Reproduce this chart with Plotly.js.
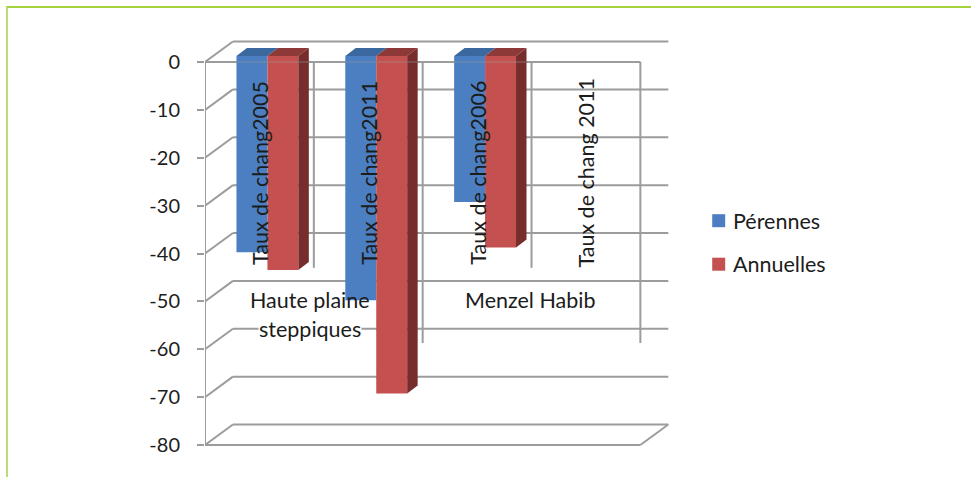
<!DOCTYPE html>
<html>
<head>
<meta charset="utf-8">
<script src="https://cdn.plot.ly/plotly-3.0.1.min.js"></script>
<style>
  html, body { margin: 0; padding: 0; background: #fff; }
  #frame { position: absolute; left: 6px; top: 6px; width: 965px; height: 471px;
           border-top: 2px solid #a4d23c; border-left: 2px solid #b9dc7c; box-sizing: border-box; pointer-events: none; z-index: 5; }
  #chart { position: absolute; left: 0; top: 0; width: 971px; height: 477px; }
</style>
</head>
<body>
<div id="chart"></div>
<div id="frame"></div>
<script>
// Change rates per region and period
var periods = ['Taux de chang2005', 'Taux de chang2011', 'Taux de chang2006', 'Taux de chang 2011'];
var perennes = [-41, -51, -30.5, null];
var annuelles = [-44.7, -70.5, -40, null];
var seriesNames = ['Pérennes', 'Annuelles'];
var yTicks = [0, -10, -20, -30, -40, -50, -60, -70, -80];
var yTickText = ['0', '-10', '-20', '-30', '-40', '-50', '-60', '-70', '-80'];

// Oblique projection, in axis units
var wallDx = 0.2568, wallDy = 4.28;     // back wall relative to front plane
var barDx = 0.0734, barDy = 1.25;       // front face of the bars
var sideDx = 0.0963, sideDy = 1.67;     // bar depth
var barW = 0.2843;

var gridColor = '#9c9c9c';
var textColor = '#1c1c1c';
var fontFamily = 'Lato, Carlito, sans-serif';
var BLUE = '#4b7fc2', BLUE_TOP = '#3a689f', RED = '#c4504f', RED_TOP = '#8c3937', RED_SIDE = '#772d2c';

var W = 971, H = 477;
var left = 204.5, unitX = 109.05, top_ = 35, bottom_ = 450, unitY = 4.7875;
var xMax = 4.3;
var yTop = (62 - top_) / unitY, yBottom = -80 - (bottom_ - 445) / unitY;
var plotW = xMax * unitX, plotH = bottom_ - top_;

var centers = periods.map(function (_, i) { return i + 0.5; });
var barCenters = centers.map(function (c) { return c + barDx; });

function face(xs, ys, color) {
  return { type: 'scatter', mode: 'lines', x: xs.concat(xs[0]), y: ys.concat(ys[0]), fill: 'toself',
           fillcolor: color, line: { width: 0, color: color }, hoverinfo: 'skip', showlegend: false };
}

var traces = [
  { type: 'bar', name: seriesNames[0], x: barCenters, y: perennes, base: barDy,
    marker: { color: BLUE }, hoverinfo: 'y' },
  { type: 'bar', name: seriesNames[1], x: barCenters, y: annuelles, base: barDy,
    marker: { color: RED }, hoverinfo: 'y' }
];

// Top faces and the visible side face of each pair of bars
barCenters.forEach(function (c, i) {
  if (perennes[i] === null) return;
  var b0 = c - barW, b1 = c, b2 = c + barW;
  traces.push(face([b0, b1, b1 + sideDx, b0 + sideDx], [barDy, barDy, barDy + sideDy, barDy + sideDy], BLUE_TOP));
  traces.push(face([b1, b2, b2 + sideDx, b1 + sideDx], [barDy, barDy, barDy + sideDy, barDy + sideDy], RED_TOP));
  traces.push(face([b2, b2 + sideDx, b2 + sideDx, b2],
                   [barDy, barDy + sideDy, barDy + sideDy + annuelles[i], barDy + annuelles[i]], RED_SIDE));
});

function seg(x0, y0, x1, y1, layer, opacity) {
  return { type: 'line', xref: 'x', yref: 'y', x0: x0, y0: y0, x1: x1, y1: y1, layer: layer || 'below',
           opacity: opacity === undefined ? 1 : opacity, line: { color: gridColor, width: 2 } };
}

var shapes = [];
yTicks.forEach(function (v) {
  shapes.push(seg(wallDx, v + wallDy, 4 + wallDx, v + wallDy));   // back wall grid line
  shapes.push(seg(0, v, wallDx, v + wallDy));                     // left wall diagonal
});
shapes.push(seg(0, 0, 0, -80));                                   // value axis
shapes.push(seg(0, 0, 4, 0));                                     // front edge at zero
shapes.push(seg(0, 0, 4, 0, 'above', 0.28));                      // same edge, showing faintly across the bars
shapes.push(seg(0, -80, 4, -80));                                 // front edge of the floor
shapes.push(seg(4, -80, 4 + wallDx, -80 + wallDy));               // right edge of the floor
[[1, -43], [2, -58.7], [3, -43], [4, -58.7]].forEach(function (d) {
  shapes.push(seg(d[0], 0, d[0], d[1]));                          // category separators
});

var labelFont = { family: fontFamily, size: 21.5, color: textColor };
var annotations = periods.map(function (label, i) {
  return { xref: 'x', yref: 'y', x: centers[i], y: -23.1, text: label, textangle: -90,
           showarrow: false, font: labelFont };
});
annotations.push({ xref: 'x', yref: 'y', x: 0.965, y: -49.7, text: 'Haute plaine', showarrow: false, font: labelFont });
annotations.push({ xref: 'x', yref: 'y', x: 0.965, y: -55.7, text: 'steppiques', showarrow: false, font: labelFont,
                   bgcolor: '#ffffff', borderpad: 0 });
annotations.push({ xref: 'x', yref: 'y', x: 2.99, y: -49.7, text: 'Menzel Habib', showarrow: false, font: labelFont });

// Legend: square swatch followed by the series name, tightly spaced
function paperX(px) { return (px - left) / plotW; }
function paperY(px) { return (bottom_ - px) / plotH; }
[[seriesNames[0], BLUE, 220.7], [seriesNames[1], RED, 264.2]].forEach(function (row) {
  shapes.push({ type: 'rect', xref: 'paper', yref: 'paper', layer: 'above',
                x0: paperX(712.7), x1: paperX(725.7), y0: paperY(row[2] - 6.5), y1: paperY(row[2] + 6.5),
                fillcolor: row[1], line: { width: 0 } });
  annotations.push({ xref: 'paper', yref: 'paper', x: paperX(732), y: paperY(row[2]), xanchor: 'left', yanchor: 'middle',
                     text: row[0], showarrow: false, font: labelFont });
});

var layout = {
  width: W, height: H, autosize: false,
  paper_bgcolor: '#ffffff', plot_bgcolor: 'rgba(0,0,0,0)',
  margin: { l: left, r: W - left - plotW, t: top_, b: H - bottom_, pad: 0 },
  barmode: 'group', bargap: 1 - 2 * barW, bargroupgap: 0,
  xaxis: { range: [0, xMax], visible: false, fixedrange: true },
  yaxis: { range: [yBottom, yTop], tickmode: 'array', tickvals: yTicks, ticktext: yTickText,
           ticks: 'outside', ticklen: 7, tickwidth: 2, tickcolor: gridColor, ticklabelstandoff: 13,
           showgrid: false, zeroline: false, showline: false, fixedrange: true,
           tickfont: { family: fontFamily, size: 20, color: textColor } },
  showlegend: false,
  shapes: shapes, annotations: annotations
};

Plotly.newPlot('chart', traces, layout, { displayModeBar: false, staticPlot: true });
</script>
</body>
</html>
